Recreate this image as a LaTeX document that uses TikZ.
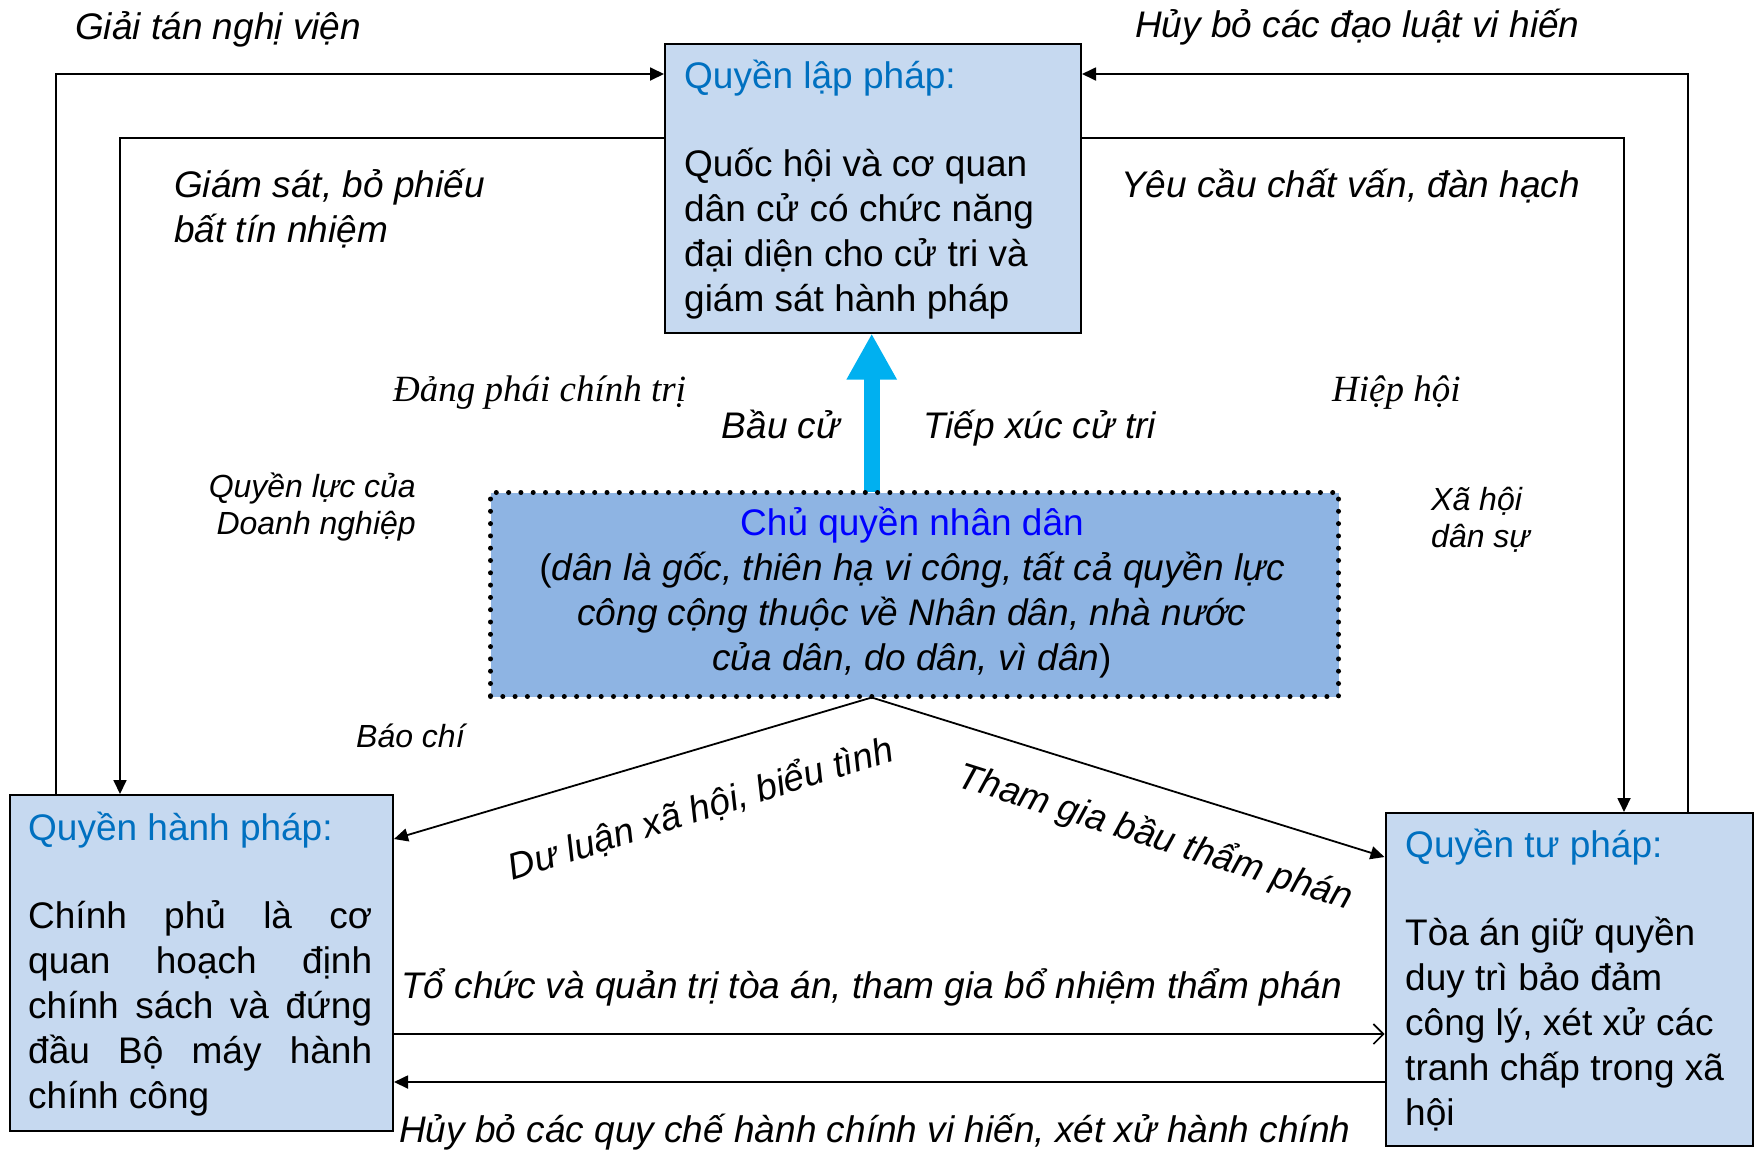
\documentclass[tikz,border=0pt]{standalone}
\usepackage{fontspec}
\setmainfont{Liberation Sans}
\newfontfamily\serifface{Liberation Serif}
\usetikzlibrary{arrows.meta}
\definecolor{boxfill}{HTML}{C6D9F0}
\definecolor{cenfill}{HTML}{8EB4E3}
\definecolor{titleblue}{HTML}{0070C0}
\definecolor{sovblue}{HTML}{0000FF}
\definecolor{arrowcyan}{HTML}{00B0F0}
\newcommand\lns[1]{\vtop{\halign{##\hfil\cr#1\crcr}}}
\newcommand\rlns[1]{\vtop{\halign{\hfil##\cr#1\crcr}}}
\newcommand\clns[1]{\vtop{\halign{\hfil##\hfil\cr#1\crcr}}}
\begin{document}
\begin{tikzpicture}[x=1pt,y=-1pt,
  pbox/.style={draw=black,line width=2pt,fill=boxfill,inner sep=0pt,anchor=north west},
  cbox/.style={draw=black,line width=5pt,dash pattern=on 0pt off 12.3pt,line cap=round,fill=cenfill,inner sep=0pt,anchor=north west},
  txt/.style={inner sep=0pt,anchor=base west,font=\fontsize{37}{45}\selectfont},
  ttl/.style={txt,text=titleblue},
  lab/.style={txt,font=\fontsize{37}{45}\selectfont\itshape},
  serlab/.style={txt,font=\fontsize{37}{45}\selectfont\serifface\itshape},
  slab/.style={inner sep=0pt,anchor=base west,font=\fontsize{32}{37.5}\selectfont\itshape},
  conn/.style={line width=1.8pt},
  tri/.style={-{Triangle[length=14pt,width=13pt]}},
  barb/.style={-{Straight Barb[length=10pt,width=20pt,line width=1.6pt]}},
]
\useasboundingbox (0,0) rectangle (1760,1152);

% helper coordinates
\coordinate (oL) at (56,74);
\coordinate (iL) at (120,138);
\coordinate (oR) at (1688,74);
\coordinate (iR) at (1624,138);
\coordinate (bx) at (871.7,0);
\coordinate (apex) at (871.7,697.5);
\coordinate (yDL) at (0,839);
\coordinate (yTG) at (0,857);
\coordinate (yTo) at (0,1034);
\coordinate (yHb) at (0,1082);

% boxes
\node[pbox,minimum width=416pt,minimum height=288.5pt] (leg) at (664,43) {};
\node[pbox,minimum width=383pt,minimum height=336pt] (exec) at (9,794) {};
\node[pbox,minimum width=367.5pt,minimum height=333pt] (jud) at (1384.5,812) {};

% cyan arrow
\draw[arrowcyan,line width=15.7pt,-{Triangle[length=46pt,width=47pt]}] (bx |- 0,492) -- (bx |- leg.south);

\node[cbox,minimum width=848pt,minimum height=204pt] (cen) at (488,490) {};

% connectors
\draw[conn,tri] (oL |- exec.north) -- (oL) -- (oL -| leg.west);
\draw[conn,tri] (iL -| leg.west) -- (iL) -- (iL |- exec.north);
\draw[conn,tri] (oR |- jud.north) -- (oR) -- (oR -| leg.east);
\draw[conn,tri] (iR -| leg.east) -- (iR) -- (iR |- jud.north);
\draw[conn,tri] (apex) -- (exec.east |- yDL);
\draw[conn,tri] (apex) -- (jud.west |- yTG);
\draw[conn,barb] (exec.east |- yTo) -- (jud.west |- yTo);
\draw[conn,tri] (jud.west |- yHb) -- (exec.east |- yHb);

% box texts
\node[ttl] (legT) at (684,88) {Quyền lập pháp:};
\node[txt] (legB) at (684,176) {\lns{Quốc hội và cơ quan\cr dân cử có chức năng\cr đại diện cho cử tri và\cr giám sát hành pháp}};

\node[ttl] (execT) at (28,840) {Quyền hành pháp:};
\node[txt] (execB) at (28,928) {\vtop{\hsize=344pt
  \hbox to\hsize{Chính\hfill phủ\hfill là\hfill cơ}
  \hbox to\hsize{quan\hfill hoạch\hfill định}
  \hbox to\hsize{chính\hfill sách\hfill và\hfill đứng}
  \hbox to\hsize{đầu\hfill Bộ\hfill máy\hfill hành}
  \hbox{chính công}}};

\node[ttl] (judT) at (1405,857) {Quyền tư pháp:};
\node[txt] (judB) at (1405,945) {\lns{Tòa án giữ quyền\cr duy trì bảo đảm\cr công lý, xét xử các\cr tranh chấp trong xã\cr hội}};

\node[txt,anchor=base] (cenT) at (912,535) {\clns{\textcolor{sovblue}{Chủ quyền nhân dân}\cr
  (\textit{dân là gốc, thiên hạ vi công, tất cả quyền lực}\cr
  \textit{công cộng thuộc về Nhân dân, nhà nước}\cr
  \textit{của dân, do dân, vì dân})}};

% labels
\node[lab] (lGiai) at (75,39.5) {Giải tán nghị viện};
\node[lab] (lHuyLuat) at (1135,37.5) {Hủy bỏ các đạo luật vi hiến};
\node[lab] (lGiamSat) at (174,197) {\lns{Giám sát, bỏ phiếu\cr bất tín nhiệm}};
\node[lab] (lYeuCau) at (1121,197) {Yêu cầu chất vấn, đàn hạch};
\node[serlab] (lDang) at (393,401) {Đảng phái chính trị};
\node[serlab] (lHiep) at (1332,401) {Hiệp hội};
\node[lab] (lBau) at (721.7,438) {Bầu cử};
\node[lab] (lTiep) at (923,438) {Tiếp xúc cử tri};
\node[slab,anchor=base east] (lDN) at (416,497) {\rlns{Quyền lực của\cr Doanh nghiệp}};
\node[slab] (lXH) at (1431,510) {\lns{Xã hội\cr dân sự}};
\node[slab] (lBao) at (356,747) {Báo chí};
\node[lab,anchor=base,rotate=17.5] (lDuLuan) at (704.3,820.3) {Dư luận xã hội, biểu tình};
\node[lab,anchor=base,rotate=-17.5] (lTham) at (1152,848) {Tham gia bầu thẩm phán};
\node[lab] (lToChuc) at (401,998) {Tổ chức và quản trị tòa án, tham gia bổ nhiệm thẩm phán};
\node[lab] (lHuyQC) at (399,1142) {Hủy bỏ các quy chế hành chính vi hiến, xét xử hành chính};
\end{tikzpicture}
\end{document}
